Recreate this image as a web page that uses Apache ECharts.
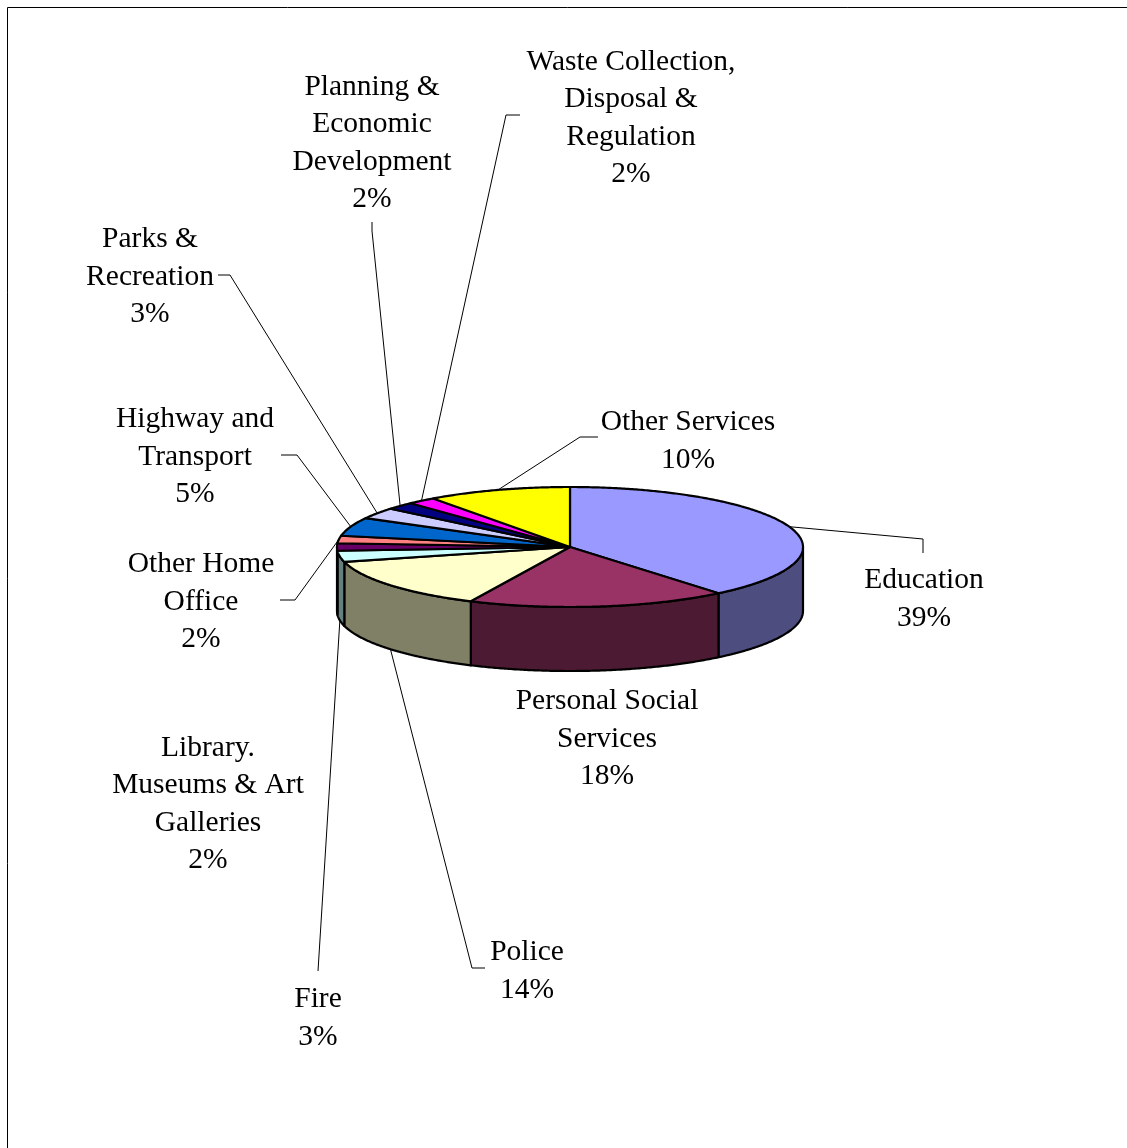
<!DOCTYPE html>
<html>
<head>
<meta charset="utf-8">
<script src="https://cdn.jsdelivr.net/npm/echarts@6/dist/echarts.min.js"></script>
<style>
  html, body { margin: 0; padding: 0; background: #fff; }
  #chart { width: 1127px; height: 1148px; }
</style>
</head>
<body>
<div id="chart"></div>
<script>
// Spending by service (share of total, %)
const categories = [
  'Education',
  'Personal Social\nServices',
  'Police',
  'Fire',
  'Library.\nMuseums & Art\nGalleries',
  'Other Home\nOffice',
  'Highway and\nTransport',
  'Parks &\nRecreation',
  'Planning &\nEconomic\nDevelopment',
  'Waste Collection,\nDisposal &\nRegulation',
  'Other Services'
];
const shares = [39, 18, 14, 3, 2, 2, 5, 3, 2, 2, 10];
const sliceColors = ['#9999FF', '#993366', '#FFFFCC', '#CCFFFF', '#660066', '#FF8080',
                     '#0066CC', '#CCCCFF', '#000080', '#FF00FF', '#FFFF00'];

// Disc geometry: centre of the top face, radii of the ellipse, wall height
const PIE = { cx: 570, cy: 547, rx: 233, ry: 60, depth: 64 };

// Label block centres
const labelPos = [
  [924, 599], [607, 739], [527, 971], [318, 1018], [208, 804], [201, 602],
  [195, 457], [150, 277], [372, 143], [631, 118], [688, 441]
];
// Leader line bends after leaving the slice (null = no leader)
const leaderBends = [
  [[923, 539], [923, 553]],
  null,
  [[472, 968], [485, 968]],
  [[318, 971]],
  null,
  [[295, 600], [280, 600]],
  [[297, 455], [281, 455]],
  [[230, 275], [218, 275]],
  [[372, 231], [372, 222]],
  [[506, 115], [520, 115]],
  [[580, 437], [598, 437]]
];

const FONT = '29.5px "Liberation Serif", "Times New Roman", serif';
const total = shares.reduce((s, v) => s + v, 0);
const startAngles = [];
shares.reduce((acc, v) => { startAngles.push(acc); return acc + v / total * 360; }, 0);

// angle in degrees, clockwise from 12 o'clock
function pt(deg, dy) {
  const r = deg * Math.PI / 180;
  return [PIE.cx + PIE.rx * Math.sin(r), PIE.cy - PIE.ry * Math.cos(r) + (dy || 0)];
}
function arc(a, b, dy) {
  const pts = [];
  const n = Math.max(2, Math.ceil(Math.abs(b - a) * 2));
  for (let i = 0; i <= n; i++) pts.push(pt(a + (b - a) * i / n, dy));
  return pts;
}
function shade(hex, f) {
  const n = parseInt(hex.slice(1), 16);
  const r = Math.round(((n >> 16) & 255) * f);
  const g = Math.round(((n >> 8) & 255) * f);
  const b = Math.round((n & 255) * f);
  return 'rgb(' + r + ',' + g + ',' + b + ')';
}

function renderSlice(params, api) {
  const i = params.dataIndex;
  const v = api.value(0);
  const a = startAngles[i];
  const b = a + v / total * 360;
  const color = sliceColors[i];
  const children = [];

  // front wall (visible between 3 and 9 o'clock)
  const s = Math.max(a, 90), e = Math.min(b, 270);
  if (s < e) {
    children.push({
      type: 'polygon', z2: 1,
      shape: { points: arc(s, e, 0).concat(arc(e, s, PIE.depth)) },
      style: { fill: shade(color, 0.5), stroke: '#000', lineWidth: 2.2, lineJoin: 'round' }
    });
  }
  // top face
  children.push({
    type: 'polygon', z2: 2,
    shape: { points: [[PIE.cx, PIE.cy]].concat(arc(a, b, 0)) },
    style: { fill: color, stroke: '#000', lineWidth: 2.2, lineJoin: 'round' }
  });

  // leader line
  const mid = (a + b) / 2;
  const bends = leaderBends[i];
  if (bends) {
    const anchor = (mid > 90 && mid < 270) ? pt(mid, PIE.depth) : pt(mid, 0);
    children.push({
      type: 'polyline', z2: 3,
      shape: { points: [anchor].concat(bends) },
      style: { fill: null, stroke: '#000', lineWidth: 1 }
    });
  }

  // label
  const pct = Math.round(v / total * 100) + '%';
  children.push({
    type: 'text', z2: 4,
    style: {
      text: categories[i] + '\n' + pct,
      x: labelPos[i][0], y: labelPos[i][1],
      align: 'center', verticalAlign: 'middle',
      textAlign: 'center', textVerticalAlign: 'middle',
      font: FONT, lineHeight: 37.5, fill: '#000'
    }
  });
  return { type: 'group', children: children };
}

const chart = echarts.init(document.getElementById('chart'), null, { renderer: 'canvas' });
chart.setOption({
  backgroundColor: '#fff',
  animation: false,
  graphic: [{
    type: 'rect', silent: true,
    shape: { x: 7.5, y: 7.5, width: 1300, height: 1300 },
    style: { fill: null, stroke: '#000', lineWidth: 1 }
  }],
  series: [{
    type: 'custom',
    coordinateSystem: 'none',
    renderItem: renderSlice,
    data: shares.map((v, i) => ({ name: categories[i], value: [v] }))
  }]
});
</script>
</body>
</html>
